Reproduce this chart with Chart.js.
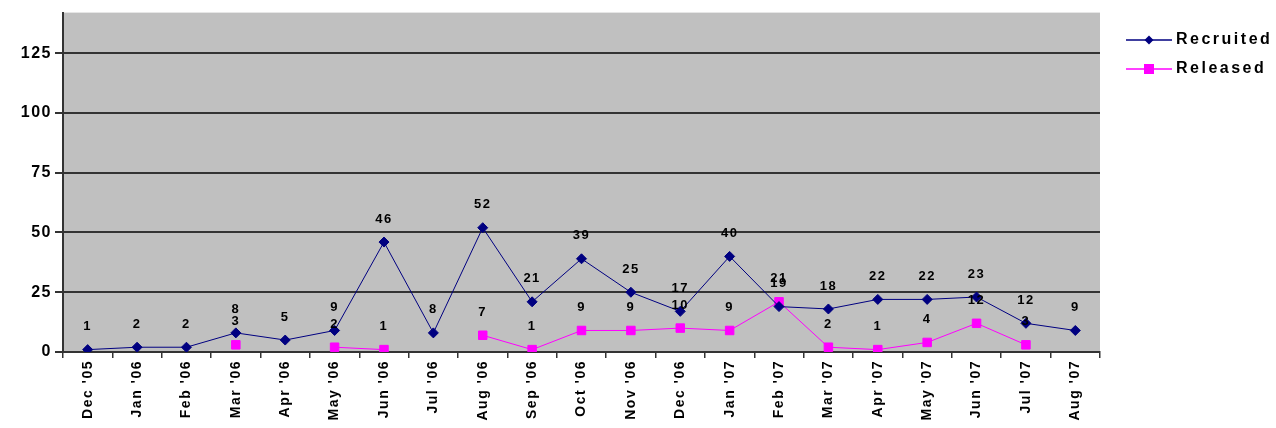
<!DOCTYPE html>
<html>
<head>
<meta charset="utf-8">
<script src="https://cdn.jsdelivr.net/npm/chart.js@4/dist/chart.umd.min.js"></script>
<style>
  html, body { margin: 0; padding: 0; background: #fff; }
  #wrap { width: 1276px; height: 428px; }
</style>
</head>
<body>
<div id="wrap"><canvas id="recruit-chart"></canvas></div>
<script>
const months = ["Dec '05", "Jan '06", "Feb '06", "Mar '06", "Apr '06", "May '06", "Jun '06", "Jul '06",
    "Aug '06", "Sep '06", "Oct '06", "Nov '06", "Dec '06", "Jan '07", "Feb '07", "Mar '07",
    "Apr '07", "May '07", "Jun '07", "Jul '07", "Aug '07"];
const recruited = [1, 2, 2, 8, 5, 9, 46, 8, 52, 21, 39, 25, 17, 40, 19, 18, 22, 22, 23, 12, 9];
const released = [null, null, null, 3, null, 2, 1, null, 7, 1, 9, 9, 10, 9, 21, 2, 1, 4, 12, 3, null];
const yTicks = [0, 25, 50, 75, 100, 125];

const FONT = "'Liberation Sans', Arial, sans-serif";

// grey plot background + letter spacing for all text
const plotBg = {
    id: 'plotBg',
    beforeDraw(chart) {
        const { ctx, chartArea: a } = chart;
        ctx.letterSpacing = '1.5px';
        ctx.save();
        ctx.fillStyle = '#c0c0c0';
        ctx.fillRect(a.left, a.top, a.right - a.left, a.bottom - a.top);
        ctx.restore();
    }
};

// value labels above each point
const valueLabels = {
    id: 'valueLabels',
    afterDatasetsDraw(chart) {
        const ctx = chart.ctx;
        ctx.save();
        ctx.font = 'bold 13px ' + FONT;
        ctx.fillStyle = '#000';
        ctx.textAlign = 'center';
        ctx.textBaseline = 'middle';
        chart.data.datasets.forEach((ds, i) => {
            chart.getDatasetMeta(i).data.forEach((pt, j) => {
                const v = ds.data[j];
                if (v === null) return;
                ctx.fillText(String(v), pt.x, pt.y - 23);
            });
        });
        ctx.restore();
    }
};

// legend at right: line with marker + label
const sideLegend = {
    id: 'sideLegend',
    afterDraw(chart) {
        const ctx = chart.ctx;
        ctx.save();
        ctx.letterSpacing = '2.5px';
        ctx.font = 'bold 16px ' + FONT;
        ctx.textBaseline = 'middle';
        chart.data.datasets.forEach((ds, i) => {
            const y = 40 + i * 29;
            ctx.strokeStyle = ds.borderColor;
            ctx.lineWidth = 1.5;
            ctx.beginPath();
            ctx.moveTo(1126, y);
            ctx.lineTo(1172, y);
            ctx.stroke();
            ctx.fillStyle = ds.pointBackgroundColor;
            if (ds.pointStyle === 'rectRot') {
                ctx.beginPath();
                ctx.moveTo(1149, y - 4.5);
                ctx.lineTo(1153.5, y);
                ctx.lineTo(1149, y + 4.5);
                ctx.lineTo(1144.5, y);
                ctx.closePath();
                ctx.fill();
            } else {
                ctx.fillRect(1144, y - 5, 10, 10);
            }
            ctx.fillStyle = '#000';
            ctx.fillText(ds.label, 1176, y);
        });
        ctx.restore();
    }
};

new Chart(document.getElementById('recruit-chart'), {
    type: 'line',
    data: {
        labels: months,
        datasets: [{
            label: 'Recruited',
            data: recruited,
            borderColor: '#000080',
            backgroundColor: '#000080',
            pointBackgroundColor: '#000080',
            pointBorderColor: '#000080',
            pointStyle: 'rectRot',
            pointRadius: 5,
            borderWidth: 1,
            tension: 0
        }, {
            label: 'Released',
            data: released,
            borderColor: '#ff00ff',
            backgroundColor: '#ff00ff',
            pointBackgroundColor: '#ff00ff',
            pointBorderColor: '#ff00ff',
            pointStyle: 'rect',
            pointRadius: 6,
            borderWidth: 1,
            spanGaps: false,
            tension: 0
        }]
    },
    options: {
        responsive: true,
        maintainAspectRatio: false,
        animation: false,
        layout: { padding: { top: 12, right: 176, left: 0, bottom: 0 } },
        plugins: {
            legend: { display: false },
            tooltip: { enabled: false }
        },
        scales: {
            y: {
                min: 0,
                max: 142,
                afterBuildTicks: s => { s.ticks = yTicks.map(v => ({ value: v })); },
                afterFit: s => { s.width = 63; },
                ticks: { color: '#000', font: { family: FONT, size: 16, weight: 'bold' }, padding: 3 },
                grid: { color: '#333', lineWidth: 2, tickLength: 8 },
                border: { color: '#333', width: 2 }
            },
            x: {
                offset: true,
                afterFit: s => { s.height = 76; },
                ticks: {
                    color: '#000',
                    font: { family: FONT, size: 14, weight: 'bold' },
                    minRotation: 90, maxRotation: 90,
                    autoSkip: false,
                    padding: 2
                },
                grid: { offset: true, drawOnChartArea: false, color: '#333', lineWidth: 1.5, tickLength: 6 },
                border: { color: '#333', width: 2 }
            }
        }
    },
    plugins: [plotBg, valueLabels, sideLegend]
});
</script>
</body>
</html>
